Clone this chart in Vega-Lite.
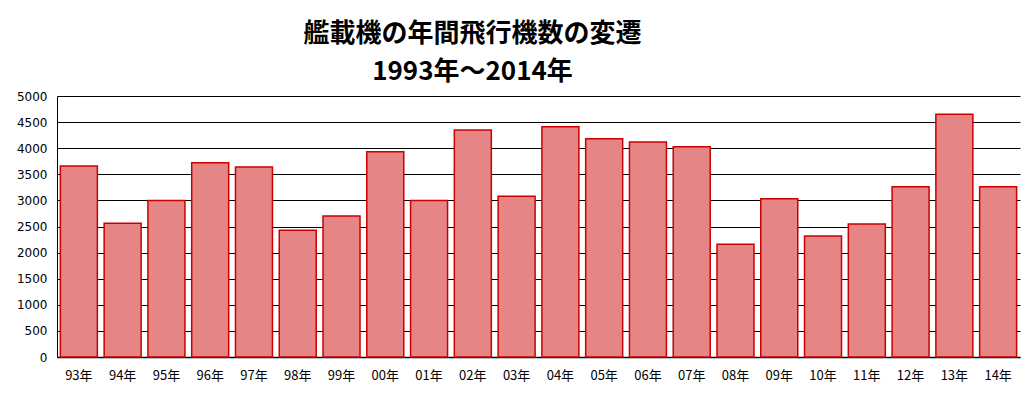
{
  "$schema": "https://vega.github.io/schema/vega-lite/v6.json",
  "autosize": {"type": "none"},
  "width": 963,
  "height": 261,
  "padding": {"left": 57, "top": 96, "right": 15, "bottom": 37},
  "background": "white",
  "title": {
    "text": ["艦載機の年間飛行機数の変遷", "1993年〜2014年"],
    "anchor": "middle",
    "frame": "group",
    "dx": -66,
    "offset": 5,
    "font": "Noto Sans CJK JP",
    "fontSize": 26,
    "fontWeight": "bold",
    "color": "black",
    "lineHeight": 38
  },
  "data": {
    "values": [
      {"year": "93年", "count": 3660},
      {"year": "94年", "count": 2560},
      {"year": "95年", "count": 3000},
      {"year": "96年", "count": 3720},
      {"year": "97年", "count": 3640},
      {"year": "98年", "count": 2430},
      {"year": "99年", "count": 2700},
      {"year": "00年", "count": 3930},
      {"year": "01年", "count": 3000},
      {"year": "02年", "count": 4350},
      {"year": "03年", "count": 3080},
      {"year": "04年", "count": 4410},
      {"year": "05年", "count": 4180},
      {"year": "06年", "count": 4120},
      {"year": "07年", "count": 4030},
      {"year": "08年", "count": 2160},
      {"year": "09年", "count": 3030},
      {"year": "10年", "count": 2320},
      {"year": "11年", "count": 2550},
      {"year": "12年", "count": 3260},
      {"year": "13年", "count": 4650},
      {"year": "14年", "count": 3260}
    ]
  },
  "mark": {"type": "bar", "fill": "#e58585", "stroke": "#cc0000", "strokeWidth": 1.5},
  "encoding": {
    "x": {
      "field": "year",
      "type": "nominal",
      "sort": null,
      "scale": {"paddingInner": 0.155, "paddingOuter": 0.077},
      "axis": {
        "title": null,
        "labelAngle": 0,
        "ticks": false,
        "domain": true,
        "domainColor": "black",
        "domainWidth": 1.5,
        "labelPadding": 12,
        "labelFont": "Noto Sans CJK JP",
        "labelFontSize": 13,
        "labelColor": "black"
      }
    },
    "y": {
      "field": "count",
      "type": "quantitative",
      "scale": {"domain": [0, 5000]},
      "axis": {
        "title": null,
        "format": "d",
        "values": [0, 500, 1000, 1500, 2000, 2500, 3000, 3500, 4000, 4500, 5000],
        "ticks": false,
        "domain": true,
        "domainColor": "black",
        "grid": true,
        "gridColor": "black",
        "gridOpacity": 1,
        "gridWidth": 1,
        "labelPadding": 10,
        "labelFont": "DejaVu Sans",
        "labelFontSize": 12,
        "labelColor": "black"
      }
    }
  },
  "config": {"view": {"stroke": null}}
}
